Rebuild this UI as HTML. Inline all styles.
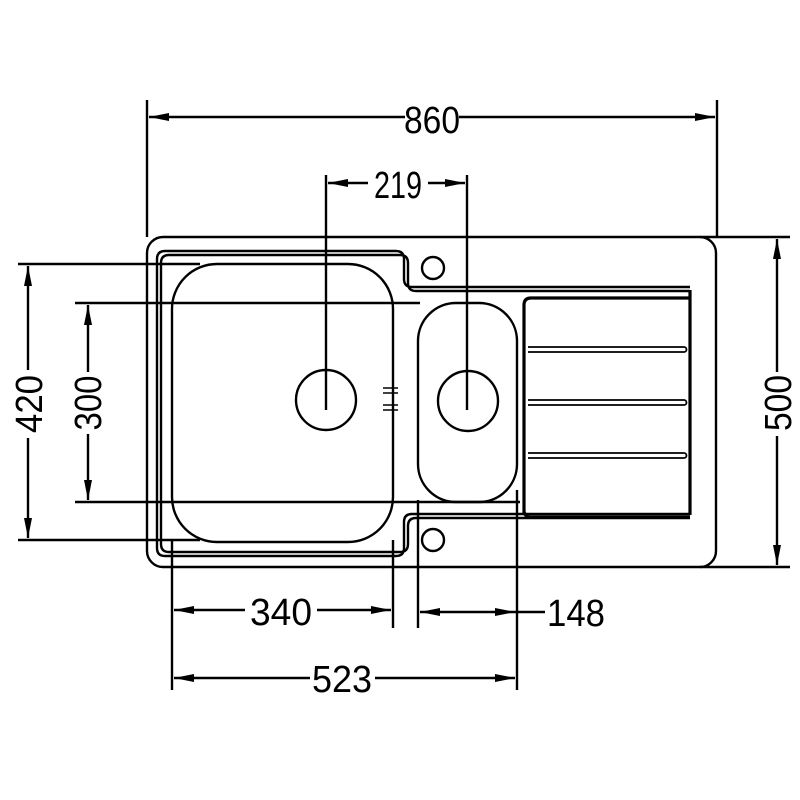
<!DOCTYPE html>
<html><head><style>body{margin:0;background:#fff}svg{display:block}</style></head><body>
<svg width="800" height="800" viewBox="0 0 800 800" xmlns="http://www.w3.org/2000/svg">
<defs>
<marker id="a" viewBox="0 0 20 8" refX="20" refY="4" markerWidth="20" markerHeight="8" markerUnits="userSpaceOnUse" orient="auto-start-reverse"><path d="M0,0 L20,4 L0,8 Z" fill="#000"/></marker>
</defs>
<g fill="none" stroke="#000" stroke-width="2.4">
<rect x="147" y="237" width="569" height="330" rx="16"/>
<path d="M690,287 L412,287 Q404,287 404,279 L404,259 Q404,251 396,251 L165,251 Q157,251 157,259 L157,548 Q157,556 165,556 L396,556 Q404,556 404,548 L404,522 Q404,514 412,514 L690,514"/>
<path d="M690,291 L416,291 Q408,291 408,283 L408,263 Q408,255 400,255 L169,255 Q161,255 161,263 L161,544 Q161,552 169,552 L400,552 Q408,552 408,544 L408,526 Q408,518 416,518 L690,518"/>
<rect x="172" y="264" width="221" height="278" rx="45"/>
<circle cx="326" cy="400" r="30"/>
<rect x="418" y="303" width="99" height="199" rx="38"/>
<circle cx="468" cy="401" r="30"/>
<circle cx="433" cy="268" r="11"/>
<circle cx="433" cy="540" r="11"/>
<path d="M383,388 H398 M383,393 H398 M383,405 H398 M383,410 H398" stroke-width="1.5"/>
<path d="M690,290 L690,515 M524,515 L524,305 Q524,298 531,298 L690,298 M524,510 Q524,517 531,517 L690,517" stroke-width="3.2"/>
<path d="M528,347 H684 A2.5,2.5 0 0 1 684,352 H528 M528,400 H684 A2.5,2.5 0 0 1 684,405 H528 M528,453 H684 A2.5,2.5 0 0 1 684,458 H528" stroke-width="1.8"/>
<path d="M147,100 V237 M717,100 V237 M700,237 H790 M700,567 H790"/>
<path d="M326,175 V410 M467,175 V410"/>
<path d="M18,264 H200 M18,540 H200 M75,303 H420 M75,502 H520"/>
<path d="M172,540 V690 M393,540 V628 M418,500 V628 M517,490 V690"/>
<path d="M149,117 H405 M459,117 H715" marker-start="url(#a)" marker-end="url(#a)"/>
<path d="M328,183 H368 M428,183 H465"/>
<path d="M28,266 V370 M28,438 V538" marker-start="url(#a)" marker-end="url(#a)"/>
<path d="M88,305 V372 M88,434 V500" marker-start="url(#a)" marker-end="url(#a)"/>
<path d="M777,239 V372 M777,436 V565" marker-start="url(#a)" marker-end="url(#a)"/>
<path d="M174,610 H245 M317,610 H391" marker-start="url(#a)" marker-end="url(#a)"/>
<path d="M420,612 H515 M515,612 H545"/>
<path d="M174,678 H310 M375,678 H515" marker-start="url(#a)" marker-end="url(#a)"/>
</g>
<path d="M420,612 L440,608 L440,616 Z M515,612 L495,608 L495,616 Z M328,183 L348,179 L348,187 Z M465,183 L445,179 L445,187 Z" fill="#000"/>
<g font-family="'Liberation Sans Narrow','Liberation Sans',sans-serif" font-size="38" fill="#000" text-anchor="middle">
<text x="432" y="133" textLength="56" lengthAdjust="spacingAndGlyphs">860</text>
<text x="398" y="198" textLength="48" lengthAdjust="spacingAndGlyphs">219</text>
<text x="281" y="625" textLength="62" lengthAdjust="spacingAndGlyphs">340</text>
<text x="576" y="626" textLength="58" lengthAdjust="spacingAndGlyphs">148</text>
<text x="342" y="692" textLength="60" lengthAdjust="spacingAndGlyphs">523</text>
<text transform="translate(42,404) rotate(-90)" textLength="58" lengthAdjust="spacingAndGlyphs">420</text>
<text transform="translate(101,403) rotate(-90)" textLength="55" lengthAdjust="spacingAndGlyphs">300</text>
<text transform="translate(791,403) rotate(-90)" textLength="56" lengthAdjust="spacingAndGlyphs">500</text>
</g>
</svg>
</body></html>
